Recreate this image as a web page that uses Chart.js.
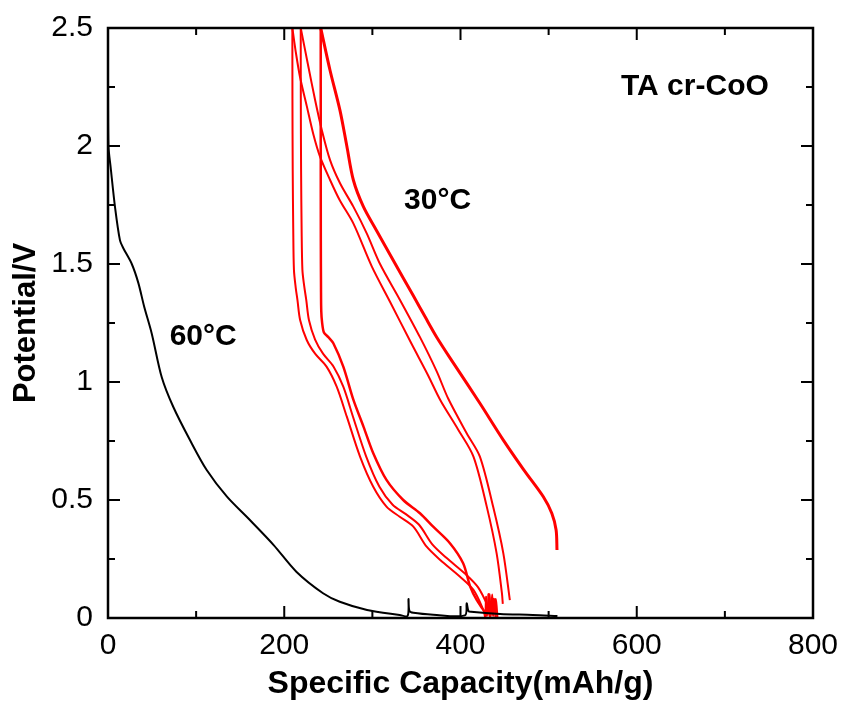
<!DOCTYPE html>
<html>
<head>
<meta charset="utf-8">
<title>TA cr-CoO</title>
<script src="https://cdn.jsdelivr.net/npm/chart.js@4.4.1/dist/chart.umd.min.js"></script>
<style>
  body { margin: 0; background: #fff; }
  canvas { display: block; }
</style>
</head>
<body>
<canvas id="capChart" width="843" height="701"></canvas>
<script>
// capacity (mAh/g), potential (V) pairs

// 60°C discharge
var curve60 = [
  [0, 2.22], [0.5, 2.0], [3, 1.91], [8, 1.74], [13.6, 1.6], [17.4, 1.567], [27, 1.5],
  [34.4, 1.42], [41, 1.32], [49.6, 1.206], [61, 1.02], [74, 0.895], [93, 0.754],
  [112, 0.627], [135, 0.514], [161, 0.415], [188, 0.309], [214, 0.195], [244, 0.105],
  [263, 0.069], [294, 0.034], [331, 0.013], [340, 0.009], [341, 0.08], [342, 0.03],
  [346.5, 0.022], [369, 0.014], [405, 0.011], [407, 0.062], [409, 0.03], [412, 0.026],
  [445, 0.017], [482, 0.013], [510, 0.008]
];

// 30°C discharge curves
var dis1 = [
  [209.2, 2.5], [209.3, 2.2], [209.6, 1.9], [210.2, 1.65], [211, 1.475], [213, 1.4],
  [215, 1.347], [218, 1.263], [225.5, 1.178], [235, 1.12], [248, 1.065], [259.5, 0.98],
  [271, 0.853], [286, 0.684], [301, 0.556], [316, 0.472], [331, 0.429], [346.5, 0.387],
  [361.6, 0.302], [377, 0.246], [399.5, 0.175], [414.7, 0.119], [426, 0.034],
  [428, 0.005], [429, 0.09], [430, 0.01], [433, 0.1], [434, 0.0]
];
var dis2 = [
  [218.7, 2.5], [218.8, 2.2], [219.1, 1.9], [219.7, 1.65], [220.6, 1.475], [222.5, 1.41],
  [225, 1.347], [228, 1.263], [235, 1.18], [244, 1.12], [256, 1.065], [267, 0.98],
  [278, 0.853], [293, 0.684], [308, 0.556], [323, 0.48], [338, 0.44], [353, 0.395],
  [368, 0.312], [384, 0.255], [406, 0.185], [420, 0.13], [431, 0.05], [434, 0.01],
  [436, 0.1], [437, 0.01], [440, 0.08], [442, 0.0]
];
var dis3 = [
  [241.4, 2.5], [241.4, 2.0], [241.5, 1.6], [241.7, 1.4], [242, 1.3], [243, 1.25],
  [245, 1.21], [250, 1.19], [255.7, 1.164], [267, 1.065], [278.5, 0.924], [290, 0.81],
  [301, 0.698], [316, 0.585], [335, 0.5], [354, 0.444], [369, 0.387], [388, 0.317],
  [403, 0.232], [411, 0.133], [418.5, 0.076], [430, 0.02], [432, 0.1], [433, 0.01],
  [438, 0.08], [440, 0.0]
];

// 30°C charge curves
var chg1 = [
  [209.2, 2.5], [213, 2.4], [218, 2.29], [225.5, 2.17], [233, 2.05], [240.6, 1.955],
  [252, 1.856], [263, 1.77], [278.4, 1.672], [299.3, 1.49], [320, 1.34], [344, 1.165],
  [363, 1.03], [377, 0.924], [397.6, 0.797], [414.7, 0.684], [429.8, 0.472],
  [441, 0.274], [447, 0.105], [448, 0.06]
];
var chg2 = [
  [218.7, 2.5], [227.4, 2.336], [235, 2.195], [242.6, 2.068], [252, 1.94], [263.3, 1.842],
  [278.4, 1.743], [293.6, 1.63], [308.7, 1.5], [331, 1.35], [354, 1.19], [373, 1.045],
  [386, 0.93], [407, 0.783], [422, 0.684], [437, 0.472], [448.6, 0.274], [456, 0.076]
];
var chg3 = [
  [241.4, 2.5], [252, 2.32], [263.3, 2.15], [271, 2.0], [278.4, 1.856], [289.8, 1.743],
  [305, 1.64], [323.8, 1.515], [346.5, 1.365], [360, 1.275], [373, 1.19], [392, 1.08],
  [422, 0.91], [448.6, 0.754], [472, 0.627], [494, 0.514], [503.6, 0.444],
  [508.5, 0.373], [509.5, 0.288]
];

var xTicks = [0, 200, 400, 600, 800];
var yTicks = [0, 0.5, 1, 1.5, 2, 2.5];

// in-plot labels: text, capacity, potential
var notes = [
  ['TA cr-CoO', 666, 2.25],
  ['30°C', 374, 1.77],
  ['60°C', 108, 1.19]
];

function toPoints(pairs) {
  return pairs.map(function (p) { return { x: p[0], y: p[1] }; });
}

function line(pairs, color, width) {
  return {
    data: toPoints(pairs),
    showLine: true,
    borderColor: color,
    borderWidth: width,
    pointRadius: 0,
    fill: false,
    tension: 0.3
  };
}

// frame, inward ticks and the text labels
var framePlugin = {
  id: 'frame',
  afterDraw: function (chart) {
    var c = chart.ctx, a = chart.chartArea;
    var xs = chart.scales.x, ys = chart.scales.y;
    c.save();
    c.strokeStyle = '#000';
    c.lineWidth = 2;
    var v, px, len;
    for (v = 0; v <= 800; v += 100) {
      px = xs.getPixelForValue(v);
      len = (v % 200 === 0) ? 12 : 7;
      c.beginPath();
      c.moveTo(px, a.bottom); c.lineTo(px, a.bottom - len);
      c.moveTo(px, a.top); c.lineTo(px, a.top + len);
      c.stroke();
    }
    for (v = 0; v <= 2.5001; v += 0.25) {
      px = ys.getPixelForValue(v);
      len = (Math.round(v * 4) % 2 === 0) ? 12 : 7;
      c.beginPath();
      c.moveTo(a.left, px); c.lineTo(a.left + len, px);
      c.moveTo(a.right, px); c.lineTo(a.right - len, px);
      c.stroke();
    }
    c.lineWidth = 2.5;
    c.strokeRect(a.left, a.top, a.right - a.left, a.bottom - a.top);

    c.fillStyle = '#000';
    c.font = 'bold 30px "Liberation Sans", Arial, sans-serif';
    c.textAlign = 'center';
    c.textBaseline = 'middle';
    notes.forEach(function (n) {
      c.fillText(n[0], xs.getPixelForValue(n[1]), ys.getPixelForValue(n[2]));
    });
    c.restore();
  }
};

var ctx = document.getElementById('capChart').getContext('2d');

var myChart = new Chart(ctx, {
  type: 'scatter',
  data: {
    datasets: [
      line(curve60, '#000000', 2),
      line(dis1, '#ff0000', 2),
      line(dis2, '#ff0000', 2),
      line(dis3, '#ff0000', 2.5),
      line(chg1, '#ff0000', 2),
      line(chg2, '#ff0000', 2),
      line(chg3, '#ff0000', 3)
    ]
  },
  options: {
    responsive: false,
    animation: false,
    layout: { padding: { top: 28, right: 30, left: 0, bottom: 0 } },
    plugins: {
      legend: { display: false },
      tooltip: { enabled: false }
    },
    scales: {
      x: {
        type: 'linear',
        min: 0,
        max: 800,
        afterBuildTicks: function (s) { s.ticks = xTicks.map(function (v) { return { value: v }; }); },
        afterFit: function (s) { s.height = 83; s.paddingLeft = 0; s.paddingRight = 0; },
        grid: { display: false, drawTicks: false },
        border: { display: false },
        ticks: {
          color: '#000',
          padding: 10,
          maxRotation: 0,
          font: { family: '"Liberation Sans", Arial, sans-serif', size: 30 }
        },
        title: {
          display: true,
          text: 'Specific Capacity(mAh/g)',
          color: '#000',
          padding: { top: 0, bottom: 1 },
          font: { family: '"Liberation Sans", Arial, sans-serif', size: 32, weight: 'bold', lineHeight: 1 }
        }
      },
      y: {
        type: 'linear',
        min: 0,
        max: 2.5,
        afterBuildTicks: function (s) { s.ticks = yTicks.map(function (v) { return { value: v }; }); },
        afterFit: function (s) { s.width = 108; s.paddingTop = 0; s.paddingBottom = 0; },
        grid: { display: false, drawTicks: false },
        border: { display: false },
        ticks: {
          color: '#000',
          padding: 15,
          callback: function (v) { return String(v); },
          font: { family: '"Liberation Sans", Arial, sans-serif', size: 30 }
        },
        title: {
          display: true,
          text: 'Potential/V',
          color: '#000',
          padding: { top: 8, bottom: 0 },
          font: { family: '"Liberation Sans", Arial, sans-serif', size: 31, weight: 'bold' }
        }
      }
    }
  },
  plugins: [framePlugin]
});
</script>
</body>
</html>
